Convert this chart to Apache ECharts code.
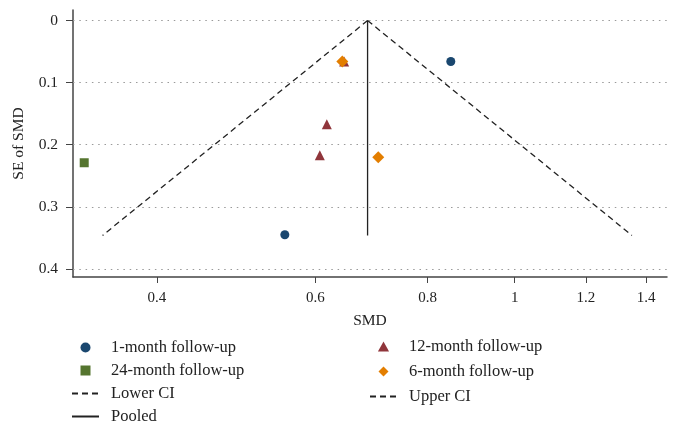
<!DOCTYPE html>
<html><head><meta charset="utf-8">
<script src="https://cdn.jsdelivr.net/npm/echarts@6/dist/echarts.min.js"></script>
<style>html,body{margin:0;padding:0;background:#fff}#c{width:677px;height:427px}</style>
</head><body><div id="c"></div>
<script>
// Data (SMD on log scale, SE of SMD)
const smd1m = [0.849, 0.555];
const se1m = [0.066, 0.345];
const smd24m = [0.332];
const se24m = [0.229];
const smd12m = [0.618, 0.607, 0.646];
const se12m = [0.167, 0.217, 0.066];
const smd6m = [0.643, 0.705];
const se6m = [0.066, 0.220];
const pooledSMD = 0.686;
const seMax = 0.346;
const lowerEnd = 0.348;
const upperEnd = 1.35;
const xTicks = [0.4, 0.6, 0.8, 1, 1.2, 1.4];
const yTicks = [0, 0.1, 0.2, 0.3, 0.4];

const FONT = 'Liberation Serif';
const AX = '#444';
const pts = (xs, ys) => xs.map((x, i) => [x, ys[i]]);
const SQ = 'path://M0,0L10,0L10,10L0,10Z';
const TRI = 'path://M5,0L10,9L0,9Z';
const DIA = 'path://M5,0L10,5L5,10L0,5Z';
const lineItem = name => ({name: name, itemStyle: {opacity: 0}});

const legendText = {fontFamily: FONT, fontSize: 16.5, color: '#222', lineHeight: 16, padding: [0, 0, 0, 7]};

const chart = echarts.init(document.getElementById('c'));
chart.setOption({
  animation: false,
  textStyle: {fontFamily: FONT},
  grid: {left: 73, right: 10, top: 10, bottom: 150},
  xAxis: {
    type: 'log', logBase: Math.E, min: 0.3226, max: 1.477,
    name: 'SMD', nameLocation: 'middle', nameGap: 36,
    nameTextStyle: {fontFamily: FONT, fontSize: 15.5, color: '#222'},
    axisLine: {onZero: false, lineStyle: {color: AX, width: 1.5}},
    axisTick: {show: true, length: 6, lineStyle: {color: AX}, customValues: xTicks},
    axisLabel: {fontFamily: FONT, fontSize: 15, color: '#222', margin: 14, customValues: xTicks,
      formatter: v => String(+(+v).toFixed(2))},
    splitLine: {show: false}, minorTick: {show: false}
  },
  yAxis: {
    type: 'value', inverse: true, min: -0.017, max: 0.413,
    name: 'SE of SMD', nameLocation: 'middle', nameGap: 46, nameRotate: 90,
    nameTextStyle: {fontFamily: FONT, fontSize: 15.5, color: '#222'},
    axisLine: {show: true, onZero: false, lineStyle: {color: AX, width: 1.5}},
    axisTick: {show: true, length: 7, lineStyle: {color: AX}, customValues: yTicks},
    axisLabel: {fontFamily: FONT, fontSize: 15.5, color: '#222', margin: 15, align: 'right', customValues: yTicks,
      formatter: v => String(+(+v).toFixed(2))},
    splitLine: {show: false}
  },
  legend: [
    {left: 71, top: 339, height: 150, padding: 0, orient: 'vertical', itemWidth: 27, itemHeight: 10, itemGap: 6,
     textStyle: legendText,
     data: [{name: '1-month follow-up', icon: 'circle'}, {name: '24-month follow-up', icon: SQ},
            lineItem('Lower CI'), lineItem('Pooled')]},
    {left: 369, top: 338, height: 150, padding: 0, orient: 'vertical', itemWidth: 27, itemHeight: 10, itemGap: 8,
     textStyle: legendText,
     data: [{name: '12-month follow-up', icon: TRI}, {name: '6-month follow-up', icon: DIA}, lineItem('Upper CI')]}
  ],
  series: [
    {name: 'Pooled', type: 'line', symbol: 'none', silent: true,
     lineStyle: {color: '#222', width: 1.3, type: 'solid'}, itemStyle: {color: '#222'},
     data: [[pooledSMD, 0], [pooledSMD, seMax]],
     markLine: {silent: true, symbol: 'none', label: {show: false},
       lineStyle: {color: '#9a9a9a', width: 1.2, type: [1.5, 4.8]},
       data: yTicks.map(v => ({yAxis: v}))}},
    {name: 'Lower CI', type: 'line', symbol: 'none', silent: true,
     lineStyle: {color: '#222', width: 1.3, type: [6, 4]}, itemStyle: {color: '#222'},
     data: [[pooledSMD, 0], [lowerEnd, seMax]]},
    {name: 'Upper CI', type: 'line', symbol: 'none', silent: true,
     lineStyle: {color: '#222', width: 1.3, type: [6, 4]}, itemStyle: {color: '#222'},
     data: [[pooledSMD, 0], [upperEnd, seMax]]},
    {name: '1-month follow-up', type: 'scatter', symbol: 'circle', symbolSize: 9,
     itemStyle: {color: '#1a476f', opacity: 1}, data: pts(smd1m, se1m)},
    {name: '24-month follow-up', type: 'scatter', symbol: 'rect', symbolSize: 9,
     itemStyle: {color: '#55752f', opacity: 1}, data: pts(smd24m, se24m)},
    {name: '12-month follow-up', type: 'scatter', symbol: 'triangle', symbolSize: 10,
     itemStyle: {color: '#90353b', opacity: 1}, data: pts(smd12m, se12m)},
    {name: '6-month follow-up', type: 'scatter', symbol: 'diamond', symbolSize: 12,
     itemStyle: {color: '#e37e00', opacity: 1}, data: pts(smd6m, se6m)}
  ]
});
</script></body></html>
